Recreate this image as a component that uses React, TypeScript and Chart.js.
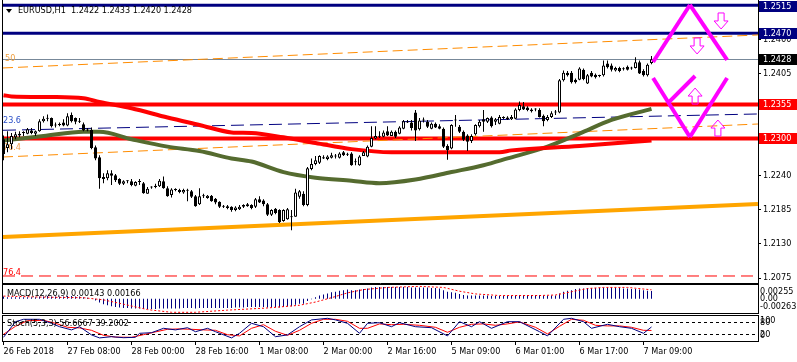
import React, { useEffect, useRef } from "react";
import { Chart, registerables } from "chart.js";
Chart.register(...registerables);

const FONT = '"DejaVu Sans Condensed", "Liberation Sans", sans-serif';
const FS = 9;

// ---------- DATA ----------
const SYMBOL = "EURUSD,H1";
const OPEN = [1.2299,1.2285,1.2291,1.2302,1.2305,1.2309,1.2308,1.2313,1.2308,1.2312,1.2328,1.2332,1.2333,1.2321,1.2322,1.2326,1.2321,1.2338,1.2333,1.2328,1.2323,1.2314,1.2314,1.2286,1.2270,1.2238,1.2236,1.2244,1.2241,1.2235,1.2227,1.2231,1.2231,1.2224,1.2230,1.2228,1.2211,1.2222,1.2222,1.2223,1.2231,1.2220,1.2209,1.2218,1.2217,1.2213,1.2217,1.2215,1.2207,1.2194,1.2207,1.2204,1.2208,1.2203,1.2198,1.2190,1.2191,1.2190,1.2185,1.2186,1.2193,1.2191,1.2193,1.2190,1.2202,1.2200,1.2194,1.2177,1.2187,1.2185,1.2167,1.2170,1.2174,1.2174,1.2206,1.2211,1.2193,1.2251,1.2259,1.2261,1.2270,1.2267,1.2269,1.2272,1.2269,1.2278,1.2274,1.2276,1.2263,1.2257,1.2272,1.2271,1.2287,1.2300,1.2303,1.2303,1.2312,1.2304,1.2311,1.2308,1.2316,1.2327,1.2326,1.2342,1.2315,1.2329,1.2327,1.2316,1.2324,1.2320,1.2316,1.2288,1.2284,1.2330,1.2319,1.2311,1.2305,1.2296,1.2307,1.2320,1.2331,1.2327,1.2334,1.2327,1.2324,1.2333,1.2334,1.2331,1.2332,1.2346,1.2352,1.2350,1.2347,1.2347,1.2346,1.2337,1.2330,1.2335,1.2342,1.2342,1.2394,1.2406,1.2406,1.2395,1.2395,1.2411,1.2389,1.2406,1.2403,1.2401,1.2402,1.2421,1.2418,1.2410,1.2414,1.2413,1.2416,1.2414,1.2414,1.2423,1.2409,1.2402,1.2422];
const HIGH = [1.2305,1.2312,1.2309,1.2311,1.2312,1.2312,1.2317,1.2317,1.2313,1.2331,1.2336,1.2339,1.2334,1.2326,1.2326,1.2331,1.2341,1.2342,1.2334,1.2333,1.2326,1.2317,1.2318,1.2289,1.2273,1.2244,1.2249,1.2249,1.2243,1.2236,1.2233,1.2233,1.2235,1.2231,1.2235,1.2230,1.2222,1.2223,1.2227,1.2235,1.2239,1.2223,1.2220,1.2220,1.2219,1.2219,1.2219,1.2217,1.2209,1.2220,1.2211,1.2209,1.2209,1.2204,1.2199,1.2193,1.2193,1.2191,1.2191,1.2193,1.2194,1.2196,1.2194,1.2204,1.2207,1.2202,1.2196,1.2186,1.2188,1.2186,1.2186,1.2188,1.2185,1.2219,1.2217,1.2215,1.2254,1.2268,1.2272,1.2273,1.2273,1.2273,1.2277,1.2275,1.2278,1.2280,1.2277,1.2278,1.2268,1.2273,1.2280,1.2289,1.2320,1.2320,1.2312,1.2313,1.2320,1.2313,1.2313,1.2320,1.2330,1.2330,1.2330,1.2346,1.2333,1.2334,1.2330,1.2326,1.2326,1.2323,1.2318,1.2291,1.2323,1.2338,1.2322,1.2313,1.2307,1.2307,1.2323,1.2330,1.2346,1.2334,1.2336,1.2333,1.2338,1.2336,1.2336,1.2338,1.2349,1.2360,1.2359,1.2352,1.2349,1.2349,1.2349,1.2339,1.2338,1.2344,1.2346,1.2396,1.2410,1.2409,1.2409,1.2397,1.2415,1.2413,1.2404,1.2409,1.2405,1.2403,1.2426,1.2426,1.2421,1.2416,1.2416,1.2415,1.2418,1.2416,1.2431,1.2426,1.2412,1.2421,1.2433];
const LOW = [1.2265,1.2278,1.2283,1.2299,1.2302,1.2304,1.2307,1.2307,1.2304,1.2311,1.2326,1.2328,1.2318,1.2318,1.2320,1.2320,1.2320,1.2326,1.2323,1.2325,1.2312,1.2312,1.2283,1.2265,1.2219,1.2228,1.2233,1.2225,1.2230,1.2225,1.2225,1.2228,1.2223,1.2223,1.2225,1.2211,1.2211,1.2219,1.2220,1.2222,1.2219,1.2206,1.2205,1.2215,1.2212,1.2211,1.2199,1.2204,1.2190,1.2193,1.2204,1.2203,1.2198,1.2194,1.2188,1.2188,1.2186,1.2182,1.2183,1.2185,1.2188,1.2190,1.2186,1.2188,1.2196,1.2191,1.2175,1.2175,1.2178,1.2164,1.2166,1.2169,1.2152,1.2174,1.2203,1.2191,1.2191,1.2249,1.2257,1.2259,1.2267,1.2265,1.2268,1.2268,1.2268,1.2272,1.2272,1.2256,1.2257,1.2256,1.2272,1.2270,1.2286,1.2299,1.2301,1.2302,1.2304,1.2304,1.2301,1.2307,1.2315,1.2325,1.2313,1.2296,1.2313,1.2326,1.2317,1.2315,1.2317,1.2315,1.2285,1.2266,1.2283,1.2319,1.2309,1.2296,1.2280,1.2293,1.2305,1.2318,1.2311,1.2325,1.2318,1.2322,1.2323,1.2331,1.2330,1.2330,1.2331,1.2344,1.2346,1.2344,1.2342,1.2344,1.2334,1.2320,1.2328,1.2333,1.2338,1.2341,1.2392,1.2400,1.2389,1.2389,1.2394,1.2394,1.2388,1.2399,1.2397,1.2399,1.2400,1.2413,1.2408,1.2408,1.2407,1.2410,1.2410,1.2411,1.2413,1.2404,1.2400,1.2400,1.2420];
const CLOSE = [1.2275,1.2291,1.2304,1.2307,1.2308,1.2310,1.2315,1.2309,1.2312,1.2328,1.2332,1.2333,1.2320,1.2322,1.2323,1.2321,1.2336,1.2328,1.2327,1.2327,1.2313,1.2313,1.2285,1.2268,1.2236,1.2235,1.2244,1.2240,1.2233,1.2227,1.2231,1.2232,1.2225,1.2230,1.2231,1.2212,1.2219,1.2221,1.2224,1.2232,1.2220,1.2207,1.2218,1.2217,1.2214,1.2217,1.2216,1.2206,1.2191,1.2207,1.2208,1.2208,1.2199,1.2197,1.2190,1.2191,1.2188,1.2185,1.2189,1.2190,1.2190,1.2194,1.2188,1.2202,1.2197,1.2194,1.2177,1.2185,1.2180,1.2165,1.2185,1.2186,1.2173,1.2213,1.2215,1.2193,1.2252,1.2259,1.2265,1.2272,1.2268,1.2271,1.2273,1.2271,1.2276,1.2273,1.2275,1.2257,1.2262,1.2271,1.2278,1.2287,1.2301,1.2304,1.2304,1.2310,1.2305,1.2311,1.2303,1.2318,1.2328,1.2326,1.2317,1.2313,1.2329,1.2330,1.2319,1.2324,1.2318,1.2316,1.2287,1.2281,1.2322,1.2329,1.2311,1.2298,1.2295,1.2304,1.2322,1.2327,1.2327,1.2333,1.2320,1.2331,1.2335,1.2334,1.2331,1.2335,1.2347,1.2354,1.2347,1.2346,1.2344,1.2348,1.2335,1.2328,1.2335,1.2341,1.2343,1.2394,1.2406,1.2402,1.2391,1.2391,1.2413,1.2396,1.2402,1.2400,1.2399,1.2402,1.2418,1.2415,1.2411,1.2414,1.2409,1.2412,1.2411,1.2413,1.2423,1.2405,1.2402,1.2419,1.2428];

const TIME_LABEL_BARS = [0, 16, 32, 48, 64, 80, 96, 112, 128, 144, 160];
const TIME_LABELS = ["26 Feb 2018", "27 Feb 08:00", "28 Feb 00:00", "28 Feb 16:00", "1 Mar 08:00", "2 Mar 00:00", "2 Mar 16:00", "5 Mar 09:00", "6 Mar 01:00", "6 Mar 17:00", "7 Mar 09:00"];
const PRICE_TICKS = [1.2075, 1.2130, 1.2185, 1.2240, 1.2295, 1.2350, 1.2405, 1.2460];

const LEVEL_PRICES = [1.2515, 1.2470, 1.2355, 1.2300];

const GREEN_MA_BARS = [0, 10, 20, 24, 32, 41, 49, 57, 62, 70, 78, 87, 94, 103, 112, 120, 126, 136, 144, 152, 162];
const GREEN_MA_VALUES = [1.2297, 1.2304, 1.2311, 1.2311, 1.2299, 1.2287, 1.2280, 1.2268, 1.2263, 1.2246, 1.2237, 1.2232, 1.2228, 1.2234, 1.2246, 1.2257, 1.2268, 1.2287, 1.2308, 1.2330, 1.2348];
const RED_MA_BARS = [0, 2, 12, 20, 24, 32, 41, 49, 57, 62, 70, 78, 87, 97, 112, 124, 127, 144, 162];
const RED_MA_VALUES = [1.2370, 1.2368, 1.2367, 1.2365, 1.2359, 1.2349, 1.2334, 1.2322, 1.2310, 1.2309, 1.2302, 1.2293, 1.2283, 1.2278, 1.2278, 1.2278, 1.2281, 1.2288, 1.2297];

const NAVY_TREND = [[-0.125, 1.23134], [188.6, 1.23397]];
const ORANGE_UPPER_TREND = [[-0.125, 1.24139], [188.6, 1.24671]];
const ORANGE_LOWER_TREND = [[-0.125, 1.22703], [188.6, 1.23235]];
const ORANGE_SOLID_TREND = [[-0.125, 1.21413], [188.6, 1.21945]];
const RED_FIB_LEVEL = [[-0.125, 1.20784], [188.6, 1.20784]];
const FIB_TEXTS = ["23.6", "50", "76.4", "76.4"];

const ZIGZAG_SEGMENTS = [
  [[162.4, 1.24235], [171.6, 1.25155]],
  [[171.6, 1.25155], [180.9, 1.24268]],
  [[162.4, 1.23977], [171.6, 1.23026]],
  [[171.6, 1.23026], [180.9, 1.23977]],
  [[166.1, 1.23573], [172.9, 1.24010]],
];
const ARROW_BARS = [179.4, 173.4, 172.9, 178.6];
const ARROW_PRICES = [1.24897, 1.24494, 1.23686, 1.23170];
const ARROW_UP = [false, false, true, true];

const MACD_HIST = [
  0.0004,0.0003,0.0003,0.0003,0.0003,0.0003,0.0003,0.0003,0.0003,0.0004,0.0004,0.0005,0.0004,0.0004,0.0004,0.0004,0.0005,0.0005,0.0004,0.0004,0.0003,0.0002,0.0000,-0.0003,
  -0.0007,-0.0010,-0.0012,-0.0014,-0.0015,-0.0016,-0.0017,-0.0017,-0.0018,-0.0018,-0.0018,-0.0019,-0.0019,-0.0019,
  -0.0019,-0.0018,-0.0018,-0.0018,-0.0018,-0.0018,-0.0018,-0.0017,-0.0017,-0.0017,-0.0018,-0.0017,-0.0017,-0.0017,-0.0017,-0.0017,-0.0017,-0.0017,-0.0017,-0.0017,-0.0016,-0.0016,-0.0016,-0.0015,-0.0015,-0.0015,-0.0015,-0.0015,-0.0016,
  -0.0015,-0.0015,-0.0016,-0.0015,-0.0014,-0.0014,-0.0011,-0.0009,-0.0009,-0.0004,
  -0.0001,0.0003,0.0006,0.0008,0.0010,0.0012,0.0013,0.0015,0.0016,0.0017,0.0016,0.0016,0.0017,0.0018,
  0.0019,0.0021,0.0022,0.0022,0.0022,0.0022,0.0022,0.0022,0.0022,0.0022,0.0022,0.0021,0.0021,0.0021,0.0021,0.0021,0.0020,0.0020,0.0019,0.0016,
  0.0013,0.0012,0.0011,0.0009,0.0007,
  0.0006,0.0006,0.0006,0.0006,0.0006,0.0006,0.0005,0.0005,0.0005,0.0005,0.0005,0.0005,0.0006,0.0007,0.0007,0.0007,0.0007,0.0007,0.0007,0.0006,0.0006,0.0006,0.0006,
  0.0010,0.0013,0.0015,0.0016,0.0018,0.0019,0.0019,0.0020,0.0020,0.0020,0.0020,0.0021,0.0021,0.0021,0.0020,0.0020,0.0019,0.0019,0.0018,0.0018,0.0017,0.0016,0.0015,0.00143,
];
const MACD_SIGNAL_BARS = [0, 10, 20, 25, 30, 36, 42, 48, 56, 66, 74, 78, 82, 86, 90, 96, 104, 110, 114, 118, 124, 134, 138, 142, 146, 150, 156, 162];
const MACD_SIGNAL_VALUES = [0.0005, 0.0003, 0.0002, -0.0002, -0.0010, -0.0020, -0.0025, -0.0025, -0.0021, -0.0017, -0.0012, -0.0006, 0.0002, 0.0011, 0.0017, 0.0021, 0.0023, 0.0021, 0.0014, 0.0009, 0.0006, 0.0006, 0.0007, 0.0013, 0.0019, 0.0021, 0.0021, 0.00166];
const MACD_SCALE_LABELS = [0.00255, 0.0, -0.00263];

const STOCH_K_BARS = [0,3,5,9,12,14,17,19,22,24,27,30,33,34,37,40,43,46,48,51,53,57,59,62,65,68,71,74,77,81,83,86,89,91,94,97,99,103,107,111,114,117,119,122,126,129,134,136,140,142,145,147,151,154,157,160,162];
const STOCH_K_VALUES = [5,83,95,95,75,58,42,58,17,2,8,3,5,25,28,50,42,53,33,50,33,2,25,75,58,8,17,58,92,100,92,75,25,75,78,58,78,58,53,12,83,58,83,50,83,83,33,12,95,100,83,50,70,58,50,25,56.6667];
const STOCH_D_BARS = [0,3,6,10,13,16,19,22,25,28,32,35,38,41,44,47,50,53,56,59,62,65,68,71,74,77,80,83,86,89,91,94,97,100,104,108,111,114,117,120,123,126,129,133,136,139,142,145,148,151,154,157,160,162];
const STOCH_D_VALUES = [20,60,88,90,75,55,52,40,15,6,5,18,32,45,47,45,42,40,18,12,50,68,35,15,40,75,95,95,85,50,50,72,68,70,65,55,30,55,70,72,65,72,82,55,22,60,95,90,65,62,62,55,40,39.2002];
const STOCH_LEVELS = [80, 20];
const STOCH_SCALE_LABELS = [100, 80, 20, 0];

// ---------- LAYOUT / STYLE ----------
const W = 797;
const AXIS_W = 39;
const XMIN = -0.375;
const XMAX = 188.625;
const Y_MIN = 1.20671;
const Y_MAX = 1.25235;
const MACD_MIN = -0.00263;
const MACD_MAX = 0.00255;
const ST_MIN = -13.5;
const ST_MAX = 111.5;

const NAVY = "#000080";
const RED = "#FF0000";
const MAGENTA = "#FF00FF";
const LEVEL_COLORS = [NAVY, NAVY, RED, RED];
const LEVEL_WIDTHS = [3, 3, 4, 4];

function txt(ctx, s, x, y, color, align = "left", baseline = "middle") {
  ctx.fillStyle = color;
  ctx.font = `${FS}px ${FONT}`;
  ctx.textAlign = align;
  ctx.textBaseline = baseline;
  ctx.fillText(s, x, y);
}

function pts(arr) {
  return arr.map(([x, y]) => ({ x, y }));
}

function lineDs(data, color, width, dash, order, extra = {}) {
  return {
    type: "line",
    data,
    borderColor: color,
    borderWidth: width,
    borderDash: dash,
    pointRadius: 0,
    fill: false,
    order,
    ...extra,
  };
}

function xScale(display) {
  return { type: "linear", min: XMIN, max: XMAX, display, offset: false };
}

function drawArrow(ctx, cx, cy, up) {
  const s = up ? -1 : 1;
  ctx.beginPath();
  ctx.moveTo(cx - 3, cy - 8 * s);
  ctx.lineTo(cx + 3, cy - 8 * s);
  ctx.lineTo(cx + 3, cy);
  ctx.lineTo(cx + 7, cy);
  ctx.lineTo(cx, cy + 8 * s);
  ctx.lineTo(cx - 7, cy);
  ctx.lineTo(cx - 3, cy);
  ctx.closePath();
  ctx.strokeStyle = MAGENTA;
  ctx.lineWidth = 1;
  ctx.stroke();
}

const mainPlugin = {
  id: "mainDecor",
  beforeDatasetsDraw(chart) {
    const { ctx, chartArea: a, scales } = chart;
    const y = scales.y;
    ctx.save();
    ctx.beginPath();
    ctx.rect(a.left, a.top, a.right - a.left, a.bottom - a.top);
    ctx.clip();
    const cp = Math.round(y.getPixelForValue(CLOSE[CLOSE.length - 1])) + 0.5;
    ctx.strokeStyle = "#778899";
    ctx.lineWidth = 1;
    ctx.beginPath();
    ctx.moveTo(a.left, cp);
    ctx.lineTo(a.right, cp);
    ctx.stroke();
    LEVEL_PRICES.forEach((p, i) => {
      const py = y.getPixelForValue(p);
      ctx.strokeStyle = LEVEL_COLORS[i];
      ctx.lineWidth = LEVEL_WIDTHS[i];
      ctx.beginPath();
      ctx.moveTo(0, py);
      ctx.lineTo(a.right, py);
      ctx.stroke();
    });
    const tx = a.left + 1;
    txt(ctx, FIB_TEXTS[0], tx, y.getPixelForValue(NAVY_TREND[0][1]) - 5, "#2B4FC7", "left", "bottom");
    txt(ctx, FIB_TEXTS[1], tx + 2, y.getPixelForValue(ORANGE_UPPER_TREND[0][1]) - 5, "#F0A040", "left", "bottom");
    txt(ctx, FIB_TEXTS[2], tx, y.getPixelForValue(ORANGE_LOWER_TREND[0][1]) - 5, "#F0A050", "left", "bottom");
    txt(ctx, FIB_TEXTS[3], tx, y.getPixelForValue(RED_FIB_LEVEL[0][1]) + 1, RED, "left", "bottom");
    ctx.restore();
  },
  afterDatasetsDraw(chart) {
    const { ctx, scales } = chart;
    ctx.save();
    ARROW_BARS.forEach((b, i) => {
      drawArrow(ctx, scales.x.getPixelForValue(b), scales.y.getPixelForValue(ARROW_PRICES[i]), ARROW_UP[i]);
    });
    ctx.restore();
  },
  afterDraw(chart) {
    const { ctx, chartArea: a, scales } = chart;
    const y = scales.y;
    ctx.save();
    ctx.strokeStyle = "#000";
    ctx.lineWidth = 1;
    ctx.beginPath();
    ctx.moveTo(a.left + 0.5, 0);
    ctx.lineTo(a.left + 0.5, a.bottom + 1);
    ctx.moveTo(a.left, a.bottom + 0.5);
    ctx.lineTo(a.right + 1, a.bottom + 0.5);
    ctx.stroke();
    ctx.fillStyle = "#000";
    ctx.beginPath();
    ctx.moveTo(6, 9);
    ctx.lineTo(12, 9);
    ctx.lineTo(9, 13);
    ctx.closePath();
    ctx.fill();
    const last = CLOSE.length - 1;
    const title = `${SYMBOL}  ${OPEN[last].toFixed(4)} ${HIGH[last].toFixed(4)} ${LOW[last].toFixed(4)} ${CLOSE[last].toFixed(4)}`;
    txt(ctx, title, 18, 11, "#000");
    const boxes = LEVEL_PRICES.map((p, i) => ({ p, c: LEVEL_COLORS[i] }));
    boxes.splice(2, 0, { p: CLOSE[last], c: "#000" });
    boxes.forEach((b) => {
      const py = y.getPixelForValue(b.p);
      let top = Math.round(py - 5.5);
      if (top < 1) top = 1;
      ctx.fillStyle = b.c;
      ctx.fillRect(a.right + 1, top, W - a.right - 1, 11);
      txt(ctx, b.p.toFixed(4), a.right + 5, top + 5.5, "#fff");
    });
    ctx.restore();
  },
};

function mainConfig() {
  const wick = HIGH.map((h, i) => ({ x: i, y: [LOW[i], h] }));
  const body = OPEN.map((o, i) => ({ x: i, y: [o, CLOSE[i]] }));
  const bodyColors = OPEN.map((o, i) => (CLOSE[i] >= o ? "#FFFFFF" : "#000000"));
  const datasets = [
    lineDs(pts(ORANGE_SOLID_TREND), "#FFA500", 4, [], 12),
    lineDs(pts(ORANGE_UPPER_TREND), "#FF8C00", 1, [10, 5], 12),
    lineDs(pts(ORANGE_LOWER_TREND), "#FF8C00", 1, [10, 5], 12),
    lineDs(pts(NAVY_TREND), NAVY, 1, [13, 6], 12),
    lineDs(pts(RED_FIB_LEVEL), RED, 1, [12, 6], 12),
    lineDs(RED_MA_BARS.map((b, i) => ({ x: b, y: RED_MA_VALUES[i] })), RED, 4, [], 9, { cubicInterpolationMode: "monotone" }),
    lineDs(GREEN_MA_BARS.map((b, i) => ({ x: b, y: GREEN_MA_VALUES[i] })), "#556B2F", 4, [], 9, { cubicInterpolationMode: "monotone" }),
    {
      type: "bar",
      data: wick,
      backgroundColor: "#000",
      borderWidth: 0,
      barThickness: 1,
      grouped: false,
      inflateAmount: 0,
      order: 5,
    },
    {
      type: "bar",
      data: body,
      backgroundColor: bodyColors,
      borderColor: "#000",
      borderWidth: 1,
      borderSkipped: false,
      barThickness: 3,
      minBarLength: 1,
      grouped: false,
      inflateAmount: 0,
      order: 4,
    },
    ...ZIGZAG_SEGMENTS.map((seg) => lineDs(pts(seg), MAGENTA, 4, [], 1)),
  ];
  return {
    type: "bar",
    data: { datasets },
    options: {
      responsive: false,
      animation: false,
      devicePixelRatio: 1,
      events: [],
      layout: { padding: { left: 2, right: 0, top: 0, bottom: 1 } },
      plugins: { legend: { display: false }, tooltip: { enabled: false } },
      scales: {
        x: xScale(false),
        y: {
          type: "linear",
          position: "right",
          min: Y_MIN,
          max: Y_MAX,
          afterBuildTicks: (s) => {
            s.ticks = PRICE_TICKS.map((v) => ({ value: v }));
          },
          afterFit: (s) => {
            s.width = AXIS_W;
            s.paddingTop = 0;
            s.paddingBottom = 0;
          },
          ticks: {
            callback: (v) => Number(v).toFixed(4),
            font: { family: FONT, size: FS },
            color: "#000",
            padding: 2,
            autoSkip: false,
          },
          grid: { drawOnChartArea: false, drawTicks: true, tickLength: 3, color: "#000" },
          border: { display: true, color: "#000", width: 1 },
        },
      },
    },
    plugins: [mainPlugin],
  };
}

const macdPlugin = {
  id: "macdDecor",
  afterDraw(chart) {
    const { ctx, chartArea: a, scales } = chart;
    const y = scales.y;
    ctx.save();
    ctx.strokeStyle = "#000";
    ctx.lineWidth = 1;
    ctx.strokeRect(a.left + 0.5, a.top - 0.5, a.right - a.left, a.bottom - a.top + 1);
    txt(ctx, "MACD(12,26,9) " + MACD_HIST[MACD_HIST.length - 1].toFixed(5) + " " + MACD_SIGNAL_VALUES[MACD_SIGNAL_VALUES.length - 1].toFixed(5), a.left + 5, a.top + 9, "#000");
    const lx = a.right + 2;
    txt(ctx, MACD_SCALE_LABELS[0].toFixed(5), lx, y.getPixelForValue(MACD_SCALE_LABELS[0]) + 6.5, "#000");
    txt(ctx, MACD_SCALE_LABELS[1].toFixed(2), lx, y.getPixelForValue(MACD_SCALE_LABELS[1]), "#000");
    txt(ctx, MACD_SCALE_LABELS[2].toFixed(5), lx, y.getPixelForValue(MACD_SCALE_LABELS[2]) - 6.5, "#000");
    ctx.restore();
  },
};

function macdConfig() {
  return {
    type: "bar",
    data: {
      datasets: [
        {
          type: "bar",
          data: MACD_HIST.map((v, i) => ({ x: i, y: v })),
          backgroundColor: NAVY,
          borderWidth: 0,
          barThickness: 1,
          inflateAmount: 0,
          grouped: false,
          order: 5,
        },
        lineDs(MACD_SIGNAL_BARS.map((b, i) => ({ x: b, y: MACD_SIGNAL_VALUES[i] })), RED, 1, [2, 2], 1),
      ],
    },
    options: {
      responsive: false,
      animation: false,
      devicePixelRatio: 1,
      events: [],
      layout: { padding: { left: 2, right: AXIS_W, top: 1, bottom: 1 } },
      plugins: { legend: { display: false }, tooltip: { enabled: false } },
      scales: {
        x: xScale(false),
        y: { type: "linear", min: MACD_MIN, max: MACD_MAX, display: false },
      },
    },
    plugins: [macdPlugin],
  };
}

const stochPlugin = {
  id: "stochDecor",
  beforeDatasetsDraw(chart) {
    const { ctx, chartArea: a, scales } = chart;
    ctx.save();
    ctx.strokeStyle = "#000";
    ctx.lineWidth = 1;
    ctx.setLineDash([3, 3]);
    STOCH_LEVELS.forEach((lv) => {
      const py = Math.round(scales.y.getPixelForValue(lv)) + 0.5;
      ctx.beginPath();
      ctx.moveTo(a.left, py);
      ctx.lineTo(a.right, py);
      ctx.stroke();
    });
    ctx.restore();
  },
  afterDraw(chart) {
    const { ctx, chartArea: a, scales } = chart;
    const y = scales.y;
    ctx.save();
    ctx.strokeStyle = "#000";
    ctx.lineWidth = 1;
    ctx.strokeRect(a.left + 0.5, a.top - 0.5, a.right - a.left, a.bottom - a.top + 1);
    txt(ctx, "Stoch(5,3,3) " + STOCH_K_VALUES[STOCH_K_VALUES.length - 1].toFixed(4) + " " + STOCH_D_VALUES[STOCH_D_VALUES.length - 1].toFixed(4), a.left + 5, a.top + 8, "#000");
    const lx = a.right + 2;
    txt(ctx, String(STOCH_SCALE_LABELS[0]), lx, a.top + 5, "#000");
    txt(ctx, String(STOCH_SCALE_LABELS[1]), lx, y.getPixelForValue(STOCH_SCALE_LABELS[1]), "#000");
    txt(ctx, String(STOCH_SCALE_LABELS[2]), lx, y.getPixelForValue(STOCH_SCALE_LABELS[2]), "#000");
    txt(ctx, String(STOCH_SCALE_LABELS[3]), lx, a.bottom - 5, "#000");
    ctx.restore();
  },
};

function stochConfig() {
  return {
    type: "line",
    data: {
      datasets: [
        lineDs(STOCH_D_BARS.map((b, i) => ({ x: b, y: STOCH_D_VALUES[i] })), RED, 1, [], 2),
        lineDs(STOCH_K_BARS.map((b, i) => ({ x: b, y: STOCH_K_VALUES[i] })), NAVY, 1, [], 1),
      ],
    },
    options: {
      responsive: false,
      animation: false,
      devicePixelRatio: 1,
      events: [],
      layout: { padding: { left: 2, right: AXIS_W, top: 2, bottom: 0 } },
      plugins: { legend: { display: false }, tooltip: { enabled: false } },
      scales: {
        x: {
          type: "linear",
          min: XMIN,
          max: XMAX,
          offset: false,
          position: "bottom",
          afterBuildTicks: (s) => {
            s.ticks = TIME_LABEL_BARS.map((v) => ({ value: v }));
          },
          afterFit: (s) => {
            s.height = 21;
            s.paddingLeft = 0;
            s.paddingRight = 0;
          },
          ticks: {
            callback: (v) => TIME_LABELS[TIME_LABEL_BARS.indexOf(Number(v))] ?? "",
            align: "start",
            autoSkip: false,
            maxRotation: 0,
            minRotation: 0,
            padding: 1,
            font: { family: FONT, size: FS },
            color: "#000",
          },
          grid: { drawOnChartArea: false, drawTicks: true, tickLength: 4, color: "#000" },
          border: { display: false },
        },
        y: { type: "linear", min: ST_MIN, max: ST_MAX, display: false },
      },
    },
    plugins: [stochPlugin],
  };
}

export default function App() {
  const mainRef = useRef(null);
  const macdRef = useRef(null);
  const stochRef = useRef(null);
  useEffect(() => {
    const charts = [
      new Chart(mainRef.current, mainConfig() as any),
      new Chart(macdRef.current, macdConfig() as any),
      new Chart(stochRef.current, stochConfig() as any),
    ];
    return () => charts.forEach((c) => c.destroy());
  }, []);
  return (
    <div style={{ position: "absolute", left: 0, top: 0, width: W, height: 362, background: "#fff" }}>
      <canvas ref={mainRef} width={W} height={284} style={{ position: "absolute", left: 0, top: 0 }} />
      <canvas ref={macdRef} width={W} height={30} style={{ position: "absolute", left: 0, top: 284 }} />
      <canvas ref={stochRef} width={W} height={48} style={{ position: "absolute", left: 0, top: 314 }} />
    </div>
  );
}
